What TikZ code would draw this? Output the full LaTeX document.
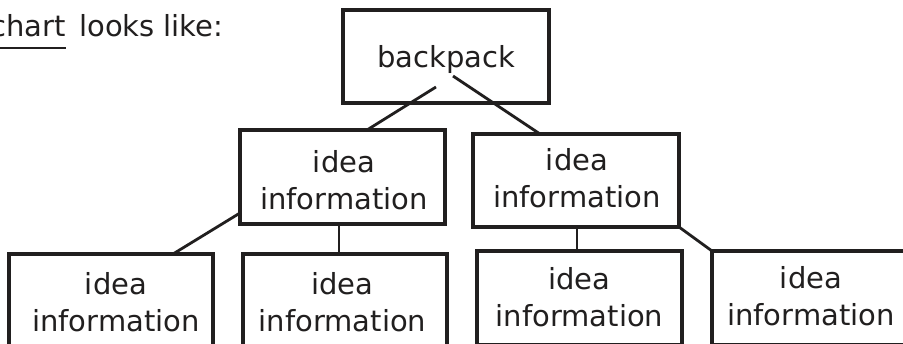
\documentclass[tikz,border=0pt]{standalone}
\usepackage{fontspec}
\newfontfamily\dvsans{DejaVu Sans}
\definecolor{ink}{rgb}{0.13,0.12,0.12}
\begin{document}
\begin{tikzpicture}[x=1pt,y=-1pt,
  box/.style={draw=ink,line width=3.1pt,rectangle,inner sep=0pt,outer sep=0pt},
  txt/.style={text=ink,font=\dvsans\fontsize{29}{37}\selectfont,align=center,inner sep=0pt},
  conn/.style={draw=ink,line width=2.8pt}]
\useasboundingbox[fill=white] (0,0) rectangle (903,344);
% heading
\node[txt,anchor=base east] (chart) at (66,37) {chart};
\node[txt,anchor=base west] (looks) at (79,37) {looks like:};
\draw[ink,line width=2.6pt] ([yshift=-11pt]chart.base west) -- ([yshift=-11pt]chart.base east);
% boxes
\node[box,minimum width=206pt,minimum height=93pt] (bp) at (446,56.5) {};
\node[box,minimum width=205pt,minimum height=94pt] (ML) at (342.5,177) {};
\node[box,minimum width=206pt,minimum height=93pt] (MR) at (576,180.5) {};
\node[box,minimum width=204pt,minimum height=94pt] (BL) at (111,301) {};
\node[box,minimum width=204pt,minimum height=94pt] (B2) at (345,301) {};
\node[box,minimum width=205pt,minimum height=94pt] (B3) at (579.5,298) {};
\node[box,minimum width=198pt,minimum height=94pt] (B4) at (811,298) {};
% texts
\node[txt] (bpT) at (446,59.5) {backpack};
\node[txt] (MLT) at (344,180.5) {idea\\information};
\node[txt] (MRT) at (577,178.5) {idea\\information};
\node[txt] (BLT) at (116,302.5) {idea\\information};
\node[txt] (B2T) at (342.5,302.5) {idea\\information};
\node[txt] (B3T) at (579.5,297.5) {idea\\information};
\node[txt] (B4T) at (811,296.5) {idea\\information};
% connectors
\coordinate (bpA) at (436,87);
\coordinate (bpB) at (453,76);
\draw[conn] (bpA) -- ([xshift=24.5pt]ML.north);
\draw[conn] (bpB) -- ([xshift=-36pt]MR.north);
\draw[conn] ([yshift=-36pt]ML.west) -- ([xshift=62pt]BL.north);
\draw[conn] ([xshift=-3.5pt]ML.south) -- ([xshift=-3.5pt]ML.south |- B2.north);
\draw[conn] ([xshift=1pt]MR.south) -- ([xshift=1pt]MR.south |- B3.north);
\draw[conn] (MR.south east) -- (B4.north west);
\end{tikzpicture}
\end{document}
